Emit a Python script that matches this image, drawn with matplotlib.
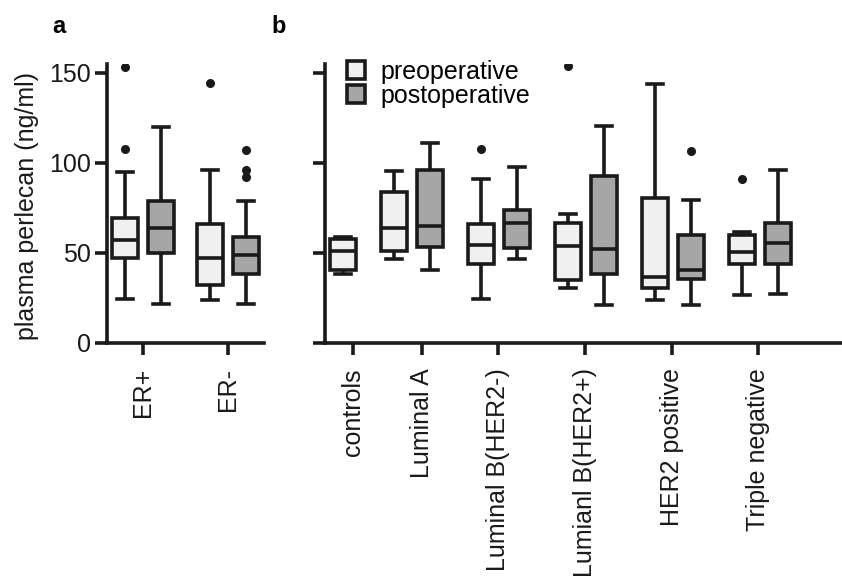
import matplotlib
matplotlib.use("Agg")
import matplotlib.pyplot as plt
from matplotlib.patches import Patch

plt.rcParams['font.family'] = ['Liberation Sans', 'DejaVu Sans']

# ---------------- data ----------------
# panel a
groups_a = ["ER+", "ER-"]
a_pre_whislo = [24.2, 24.0]
a_pre_q1 = [47.0, 32.0]
a_pre_med = [57.1, 47.0]
a_pre_q3 = [69.2, 66.0]
a_pre_whishi = [95.0, 96.0]
a_pre_fliers = [[107.4, 153.2], [144.0]]

a_post_whislo = [21.6, 21.6]
a_post_q1 = [50.0, 38.0]
a_post_med = [64.0, 49.0]
a_post_q3 = [79.0, 59.0]
a_post_whishi = [120.0, 79.0]
a_post_fliers = [[], [92.0, 96.0, 107.0]]

# panel b
categories_b = ["controls", "Luminal A", "Luminal B(HER2-)", "Lumianl B(HER2+)",
                "HER2 positive", "Triple negative"]
b_pre_whislo = [38.5, 46.4, 24.3, 30.4, 23.8, 26.7]
b_pre_q1 = [40.3, 50.8, 44.0, 35.0, 30.6, 44.0]
b_pre_med = [50.8, 63.5, 54.1, 53.8, 36.8, 50.6]
b_pre_q3 = [57.8, 83.6, 66.1, 66.7, 80.5, 59.7]
b_pre_whishi = [58.7, 95.2, 91.0, 71.6, 143.6, 61.5]
b_pre_fliers = [[], [], [107.6], [153.4], [], [91.2]]

# postoperative (no controls)
b_post_whislo = [40.3, 46.4, 21.2, 21.2, 27.0]
b_post_q1 = [53.4, 52.9, 38.5, 35.4, 43.6]
b_post_med = [64.8, 66.3, 51.9, 40.3, 55.2]
b_post_q3 = [95.8, 73.7, 92.8, 59.7, 66.7]
b_post_whishi = [110.9, 97.4, 120.6, 79.2, 96.1]
b_post_fliers = [[], [], [], [106.6], []]

series_labels = ["preoperative", "postoperative"]
ytick_vals = [0, 50, 100, 150]

# ---------------- style ----------------
PRE_C = "#eff0ef"
POST_C = "#a6a6a6"
EDGE = "#1a1a1a"
LW = 2.6
FS = 18


def make_stats(wl, q1, med, q3, wh, fl):
    return [dict(whislo=a, q1=b, med=c, q3=d, whishi=e, fliers=f)
            for a, b, c, d, e, f in zip(wl, q1, med, q3, wh, fl)]


def draw(ax, stats, positions, color, width=0.3, capw=0.185):
    ax.bxp(stats, positions=positions, widths=width,
           capwidths=capw, patch_artist=True, showfliers=True,
           boxprops=dict(facecolor=color, edgecolor=EDGE, linewidth=LW),
           whiskerprops=dict(color=EDGE, linewidth=LW, solid_capstyle='butt'),
           capprops=dict(color=EDGE, linewidth=LW),
           medianprops=dict(color=EDGE, linewidth=LW),
           flierprops=dict(marker='o', markerfacecolor=EDGE, markeredgecolor=EDGE,
                           markersize=5.5, linestyle='none'),
           manage_ticks=False)


def style_axes(ax):
    for s in ("top", "right"):
        ax.spines[s].set_visible(False)
    for s in ("left", "bottom"):
        ax.spines[s].set_linewidth(LW)
        ax.spines[s].set_color(EDGE)
    ax.tick_params(axis='both', length=8.6, width=LW, color=EDGE,
                   labelsize=FS, labelcolor="#1a1a1a")
    ax.tick_params(axis='y', pad=3)
    ax.tick_params(axis='x', pad=9.5)
    ax.set_ylim(0, 155)
    ax.set_yticks(ytick_vals)


W, H = 842, 585
fig = plt.figure(figsize=(W / 100, H / 100), dpi=100)
bottom = (H - 343) / H
height = 279.5 / H
axa = fig.add_axes([107.3 / W, bottom, 157 / W, height])
axb = fig.add_axes([325 / W, bottom, 517 / W, height])

# panel a
centers_a = [0.42 + i for i in range(len(groups_a))]
draw(axa, make_stats(a_pre_whislo, a_pre_q1, a_pre_med, a_pre_q3, a_pre_whishi, a_pre_fliers),
     [c - 0.21 for c in centers_a], PRE_C)
draw(axa, make_stats(a_post_whislo, a_post_q1, a_post_med, a_post_q3, a_post_whishi, a_post_fliers),
     [c + 0.21 for c in centers_a], POST_C)
style_axes(axa)
axa.set_xlim(0, 1.847)
axa.set_xticks(centers_a)
axa.set_xticklabels(groups_a, rotation=90)
axa.set_yticklabels([str(v) for v in ytick_vals])

# panel b
pre_pos_b = [0.207] + [k - 0.207 for k in range(1, len(categories_b))]
post_pos_b = [k + 0.207 for k in range(1, len(categories_b))]
draw(axb, make_stats(b_pre_whislo, b_pre_q1, b_pre_med, b_pre_q3, b_pre_whishi, b_pre_fliers),
     pre_pos_b, PRE_C, width=0.293, capw=0.18)
draw(axb, make_stats(b_post_whislo, b_post_q1, b_post_med, b_post_q3, b_post_whishi, b_post_fliers),
     post_pos_b, POST_C, width=0.293, capw=0.18)
style_axes(axb)
axb.set_xlim(0, 5.943)
axb.set_xticks([0.32, 1.11, 1.99, 2.99, 3.99, 4.98])
axb.set_xticklabels(categories_b, rotation=90)
axb.set_yticklabels([])

handles = [Patch(facecolor=PRE_C, edgecolor=EDGE, linewidth=LW),
           Patch(facecolor=POST_C, edgecolor=EDGE, linewidth=LW)]
axb.legend(handles, series_labels, loc='upper left',
           bbox_to_anchor=(347 / W, 1 - 60 / H), bbox_transform=fig.transFigure,
           frameon=False, borderpad=0, borderaxespad=0, handlelength=0.72,
           handleheight=0.72, handletextpad=0.6, labelspacing=0.0, fontsize=FS)

# panel letters and y label
fig.text(52.7 / W, 1 - 33.3 / H, "a", fontsize=17, fontweight='bold', va='baseline')
fig.text(271.7 / W, 1 - 33.3 / H, "b", fontsize=17, fontweight='bold', va='baseline')
fig.text(26.7 / W, 1 - 206 / H, "plasma perlecan (ng/ml)", fontsize=FS,
         rotation=90, ha='center', va='center', color="#1a1a1a")

fig.savefig("out.png", dpi=100)
